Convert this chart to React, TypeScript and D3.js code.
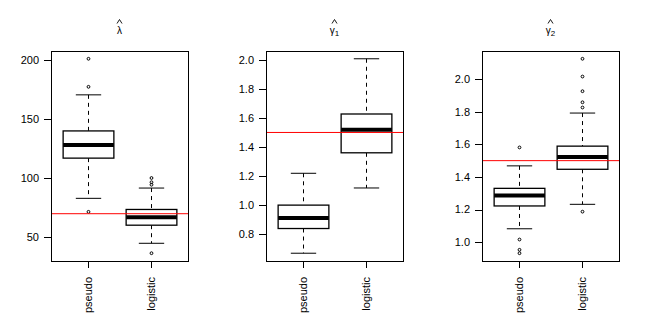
import React from 'react'
import * as d3 from 'd3'

const categories = ['pseudo', 'logistic']

// five-number summaries per group: [lowWhisker, q1, median, q3, highWhisker]
const lambdaStats = [
  [83, 117, 128, 140, 170.5],
  [45, 60.3, 67, 73.6, 91.7],
]
const lambdaOutliers = [
  [201, 177.3, 71.6],
  [100.2, 96.6, 94.5, 36.6],
]
const lambdaTicks = [50, 100, 150, 200]

const gamma1Stats = [
  [0.669, 0.839, 0.911, 1.0, 1.219],
  [1.118, 1.36, 1.519, 1.627, 2.007],
]
const gamma1Outliers = [[], []]
const gamma1Ticks = [0.8, 1.0, 1.2, 1.4, 1.6, 1.8, 2.0]

const gamma2Stats = [
  [1.082, 1.222, 1.286, 1.33, 1.468],
  [1.232, 1.447, 1.522, 1.589, 1.792],
]
const gamma2Outliers = [
  [1.581, 1.016, 0.953, 0.932],
  [2.125, 2.016, 1.926, 1.858, 1.826, 1.187],
]
const gamma2Ticks = [1.0, 1.2, 1.4, 1.6, 1.8, 2.0]

const trueValues = [70, 1.5, 1.5]

const panels = [
  { sym: 'λ', sub: '', stats: lambdaStats, outliers: lambdaOutliers, ticks: lambdaTicks, fmt: d3.format('d') },
  { sym: 'γ', sub: '1', stats: gamma1Stats, outliers: gamma1Outliers, ticks: gamma1Ticks, fmt: d3.format('.1f') },
  { sym: 'γ', sub: '2', stats: gamma2Stats, outliers: gamma2Outliers, ticks: gamma2Ticks, fmt: d3.format('.1f') },
]

const W = 646
const H = 326
const top = 51
const bottom = 261
const plotW = 137
const font = 'Liberation Sans, Arial, sans-serif'

const Panel = ({ p, i }: any) => {
  const left = Math.round(i * W / 3 + 51)
  // R style 4% axis extension
  const all = [...p.stats.flat(), ...p.outliers.flat()]
  const [lo, hi] = d3.extent(all) as [number, number]
  const pad = (hi - lo) * 0.04
  const y = d3.scaleLinear().domain([lo - pad, hi + pad]).range([bottom, top])
  const x = d3.scaleLinear().domain([0.42, 2.58]).range([left, left + plotW])
  const bw = x(1.8) - x(1)
  const cx = (j: number) => x(j + 1)
  const titleX = left + plotW / 2

  return (
    <g>
      <path d={`M${titleX - 2.5},23.5L${titleX},19.5L${titleX + 2.5},23.5`} fill="none" stroke="#000" strokeWidth={0.9} />
      <text x={titleX} y={34} fontFamily={font} fontSize={10} fill="#000" textAnchor="middle">
        {p.sym}
        {p.sub && <tspan fontSize={8} dy={2}>{p.sub}</tspan>}
      </text>
      <rect x={left + 0.5} y={top + 0.5} width={plotW} height={bottom - top} fill="none" stroke="#000" />
      {p.stats.map((s: number[], j: number) => {
        const c = Math.round(cx(j)) + 0.5
        return (
          <g key={j} stroke="#000" fill="none">
            <line x1={c} x2={c} y1={y(s[4])} y2={y(s[3])} strokeDasharray="4,4" />
            <line x1={c} x2={c} y1={y(s[1])} y2={y(s[0])} strokeDasharray="4,4" />
            <line x1={c - bw / 4} x2={c + bw / 4} y1={y(s[4])} y2={y(s[4])} />
            <line x1={c - bw / 4} x2={c + bw / 4} y1={y(s[0])} y2={y(s[0])} />
            <rect x={c - bw / 2} y={y(s[3])} width={bw} height={y(s[1]) - y(s[3])} fill="#fff" strokeWidth={1.3} />
            <line x1={c - bw / 2} x2={c + bw / 2} y1={y(s[2])} y2={y(s[2])} strokeWidth={4} />
            {p.outliers[j].map((o: number, k: number) => (
              <circle key={k} cx={c} cy={y(o)} r={1.4} />
            ))}
          </g>
        )
      })}
      <line x1={left + 1} x2={left + plotW} y1={y(trueValues[i])} y2={y(trueValues[i])} stroke="red" />
      <g fontFamily={font} fontSize={11} fill="#000">
        {p.ticks.map((t: number) => (
          <g key={t}>
            <line x1={left - 7} x2={left} y1={Math.round(y(t)) + 0.5} y2={Math.round(y(t)) + 0.5} stroke="#000" />
            <text x={left - 12} y={y(t)} dy="0.35em" textAnchor="end">{p.fmt(t)}</text>
          </g>
        ))}
        {categories.map((c, j) => (
          <g key={c}>
            <line x1={Math.round(cx(j)) + 0.5} x2={Math.round(cx(j)) + 0.5} y1={bottom} y2={bottom + 7} stroke="#000" />
            <text transform={`translate(${cx(j) + 4},${bottom + 16}) rotate(-90)`} textAnchor="end">{c}</text>
          </g>
        ))}
      </g>
    </g>
  )
}

export default function App() {
  return (
    <svg width={W} height={H} style={{ position: 'absolute', left: 0, top: 0, background: '#fff' }}>
      {panels.map((p, i) => <Panel key={i} p={p} i={i} />)}
    </svg>
  )
}
